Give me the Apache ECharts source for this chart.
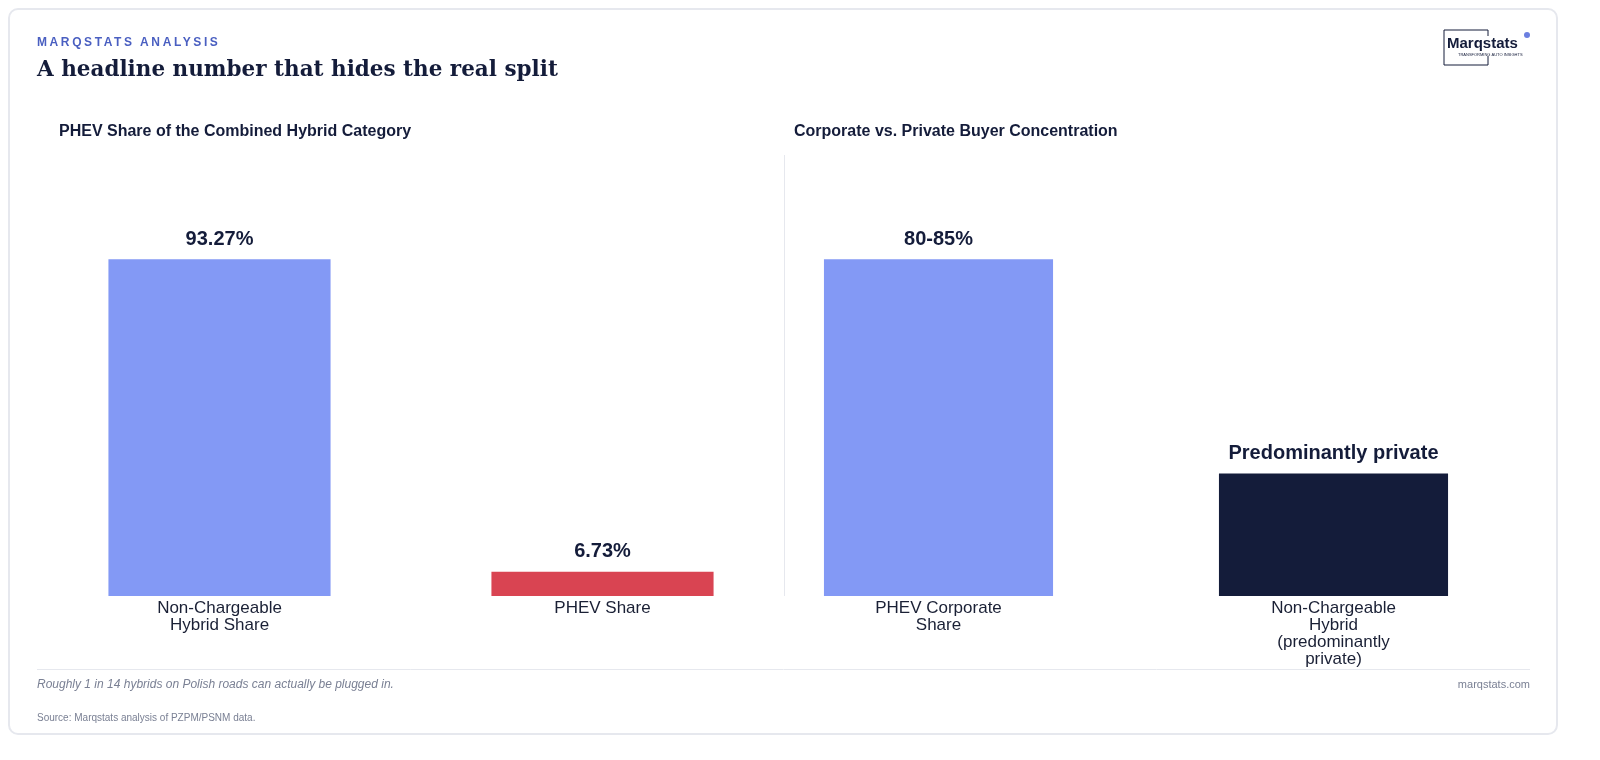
<!DOCTYPE html>
<html><head><meta charset="utf-8">
<script src="https://cdn.jsdelivr.net/npm/echarts@6/dist/echarts.min.js"></script>
<style>
html,body{margin:0;padding:0;background:#fff;width:1600px;height:760px;overflow:hidden}
#card{position:absolute;left:8px;top:8px;width:1550px;height:727px;border:2px solid #e6e8ee;border-radius:10px;box-sizing:border-box}
#c{position:absolute;left:0;top:0;width:1600px;height:760px}
#kick{position:absolute;left:37px;top:35px;font:bold 12px 'Liberation Sans';letter-spacing:2.6px;color:#4a5fc1;z-index:2}
</style></head><body>
<div id="card"></div>
<div id="c"></div>
<div id="kick">MARQSTATS ANALYSIS</div>
<script>
const leftCats = ['Non-Chargeable\nHybrid Share', 'PHEV Share'];
const leftValues = [93.27, 6.73];
const leftLabels = ['93.27%', '6.73%'];
const rightCats = ['PHEV Corporate\nShare', 'Non-Chargeable\nHybrid\n(predominantly\nprivate)'];
const rightValues = [82.5, 30];
const rightLabels = ['80-85%', 'Predominantly private'];

const chart = echarts.init(document.getElementById('c'));
const axisLbl = {color:'#1a2035', fontSize:17, fontFamily:'Liberation Sans', lineHeight:17, margin:4, interval:0};
function xa(i,cats){return {type:'category',gridIndex:i,data:cats,axisLine:{show:false},axisTick:{show:false},axisLabel:axisLbl};}
function ya(i,max){return {type:'value',gridIndex:i,max:max,min:0,show:false,splitLine:{show:false}};}
function ser(i,vals,labels,colors){return {type:'bar',xAxisIndex:i,yAxisIndex:i,barWidth:'58%',
  data:vals.map((v,k)=>({value:v,itemStyle:{color:colors[k]},label:{formatter:labels[k]}})),
  label:{show:true,position:'top',distance:10,color:'#141c3a',fontSize:20,fontWeight:'bold',fontFamily:'Liberation Sans'}};}
function t(text,pos,style){return Object.assign({text:text,padding:0,textStyle:Object.assign({fontWeight:'normal',fontFamily:'Liberation Sans'},style)},pos);}
chart.setOption({
  animation:false,
  title:[
    t('A headline number that hides the real split',{left:37,top:59},{color:'#141c3a',fontSize:21.5,fontWeight:'bold',fontFamily:'DejaVu Serif'}),
    t('PHEV Share of the Combined Hybrid Category',{left:59,top:124},{color:'#141c3a',fontSize:16,fontWeight:'bold'}),
    t('Corporate vs. Private Buyer Concentration',{left:794,top:124},{color:'#141c3a',fontSize:16,fontWeight:'bold'}),
    t('Roughly 1 in 14 hybrids on Polish roads can actually be plugged in.',{left:37,top:679},{color:'#7a8094',fontSize:12,fontStyle:'italic'}),
    t('marqstats.com',{right:70,top:679},{color:'#7a8094',fontSize:11}),
    t('Source: Marqstats analysis of PZPM/PSNM data.',{left:37,top:713},{color:'#7a8094',fontSize:10})
  ],
  grid:[{left:28,width:766,top:155,height:441},{left:741,width:790,top:155,height:441}],
  xAxis:[xa(0,leftCats),xa(1,rightCats)],
  yAxis:[ya(0,93.27*1.31),ya(1,82.5*1.31)],
  series:[ser(0,leftValues,leftLabels,['#8399f5','#d94452']),ser(1,rightValues,rightLabels,['#8399f5','#141c3a'])],
  graphic:[
    {type:'line',shape:{x1:784.5,y1:155,x2:784.5,y2:596},style:{stroke:'#e6e8ee',lineWidth:1}},
    {type:'line',shape:{x1:37,y1:669.5,x2:1530,y2:669.5},style:{stroke:'#e6e8ee',lineWidth:1}},
    {type:'rect',shape:{x:1444,y:30,width:44,height:35},style:{fill:'none',stroke:'#141c3a',lineWidth:1}},
    {type:'rect',shape:{x:1466,y:36,width:64,height:20},style:{fill:'#fff',stroke:null}},
    {type:'text',left:1447,top:36,style:{text:'Marqstats',fill:'#141c3a',font:'bold 15px Liberation Sans'}},
    {type:'text',left:1458,top:53,style:{text:'TRANSFORMING AUTO INSIGHTS',fill:'#141c3a',font:'4px Liberation Sans'}},
    {type:'circle',shape:{cx:1527,cy:35,r:3},style:{fill:'#6b7fe0'}}
  ]
});
</script></body></html>
